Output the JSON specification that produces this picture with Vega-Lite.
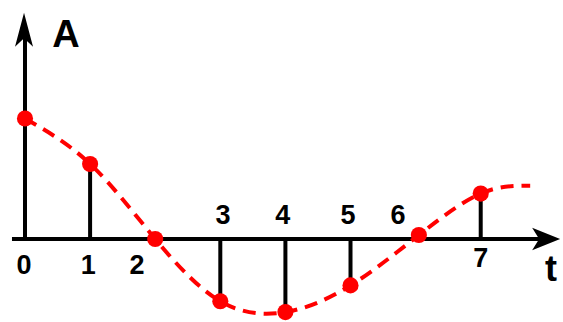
{
  "$schema": "https://vega.github.io/schema/vega-lite/v6.json",
  "autosize": {"type": "fit", "contains": "padding"},
  "width": 563,
  "height": 322,
  "padding": 0,
  "background": "white",
  "view": {"stroke": null},
  "config": {"text": {"font": "Liberation Sans", "fontWeight": "bold"}},
  "datasets": {
    "samples": [
      {"t": 0, "A": 122, "base": 0},
      {"t": 1, "A": 76, "base": 0},
      {"t": 2, "A": 0, "base": 0},
      {"t": 3, "A": -63, "base": 0},
      {"t": 4, "A": -74, "base": 0},
      {"t": 5, "A": -47, "base": 0},
      {"t": 6.05, "A": 4, "base": 0},
      {"t": 7, "A": 46, "base": 0}
    ],
    "curve": [
      {"t": 0, "A": 122},
      {"t": 1, "A": 76},
      {"t": 2, "A": 0},
      {"t": 3, "A": -63},
      {"t": 4, "A": -74},
      {"t": 5, "A": -47},
      {"t": 6.05, "A": 4},
      {"t": 7, "A": 46},
      {"t": 7.76, "A": 54}
    ],
    "labels": [
      {"label": "0", "lt": -0.015, "la": -35},
      {"label": "1", "lt": 0.97, "la": -35},
      {"label": "2", "lt": 1.72, "la": -35},
      {"label": "3", "lt": 3.04, "la": 15},
      {"label": "4", "lt": 3.96, "la": 15},
      {"label": "5", "lt": 4.96, "la": 15},
      {"label": "6", "lt": 5.73, "la": 15},
      {"label": "7", "lt": 7.0, "la": -28}
    ],
    "axes": [
      {"name": "t", "x1": -0.2, "x2": 8.1, "y1": 0, "y2": 0},
      {"name": "A", "x1": 0, "x2": 0, "y1": 0, "y2": 215}
    ],
    "arrowT": [{"t": 8.22, "A": 0}],
    "arrowA": [{"t": -0.015, "A": 229}],
    "titleA": [{"text": "A", "lt": 0.63, "la": 194}],
    "titleT": [{"text": "t", "lt": 8.08, "la": -43}]
  },
  "layer": [
    {
      "data": {"name": "axes"},
      "mark": {"type": "rule", "color": "black", "strokeWidth": 4},
      "encoding": {
        "x": {"field": "x1", "type": "quantitative", "scale": {"domain": [-0.384, 8.264], "nice": false, "zero": false}, "axis": null},
        "x2": {"field": "x2"},
        "y": {"field": "y1", "type": "quantitative", "scale": {"domain": [-80, 242], "nice": false, "zero": false}, "axis": null},
        "y2": {"field": "y2"}
      }
    },
    {
      "data": {"name": "arrowT"},
      "mark": {"type": "point", "filled": true, "color": "black", "opacity": 1, "strokeWidth": 0, "shape": "M0,0 L-2,-0.8 L-1.5,0 L-2,0.8 Z", "size": 784},
      "encoding": {
        "x": {"field": "t", "type": "quantitative"},
        "y": {"field": "A", "type": "quantitative"}
      }
    },
    {
      "data": {"name": "arrowA"},
      "mark": {"type": "point", "filled": true, "color": "black", "opacity": 1, "strokeWidth": 0, "shape": "M0,0 L-0.53,2 L0,1.5 L0.53,2 Z", "size": 1156},
      "encoding": {
        "x": {"field": "t", "type": "quantitative"},
        "y": {"field": "A", "type": "quantitative"}
      }
    },
    {
      "data": {"name": "samples"},
      "mark": {"type": "rule", "color": "black", "strokeWidth": 4},
      "encoding": {
        "x": {"field": "t", "type": "quantitative"},
        "y": {"field": "base", "type": "quantitative"},
        "y2": {"field": "A"}
      }
    },
    {
      "data": {"name": "curve"},
      "mark": {"type": "line", "color": "#ff0000", "strokeWidth": 4, "strokeDash": [13, 8], "interpolate": "natural"},
      "encoding": {
        "x": {"field": "t", "type": "quantitative"},
        "y": {"field": "A", "type": "quantitative"}
      }
    },
    {
      "data": {"name": "samples"},
      "mark": {"type": "circle", "color": "#ff0000", "opacity": 1, "size": 260},
      "encoding": {
        "x": {"field": "t", "type": "quantitative"},
        "y": {"field": "A", "type": "quantitative"}
      }
    },
    {
      "data": {"name": "labels"},
      "mark": {"type": "text", "fontSize": 27, "align": "center", "baseline": "alphabetic", "color": "black"},
      "encoding": {
        "x": {"field": "lt", "type": "quantitative"},
        "y": {"field": "la", "type": "quantitative"},
        "text": {"field": "label"}
      }
    },
    {
      "data": {"name": "titleA"},
      "mark": {"type": "text", "fontSize": 38, "align": "center", "baseline": "alphabetic", "color": "black"},
      "encoding": {
        "x": {"field": "lt", "type": "quantitative"},
        "y": {"field": "la", "type": "quantitative"},
        "text": {"field": "text"}
      }
    },
    {
      "data": {"name": "titleT"},
      "mark": {"type": "text", "fontSize": 36, "align": "center", "baseline": "alphabetic", "color": "black"},
      "encoding": {
        "x": {"field": "lt", "type": "quantitative"},
        "y": {"field": "la", "type": "quantitative"},
        "text": {"field": "text"}
      }
    }
  ]
}
